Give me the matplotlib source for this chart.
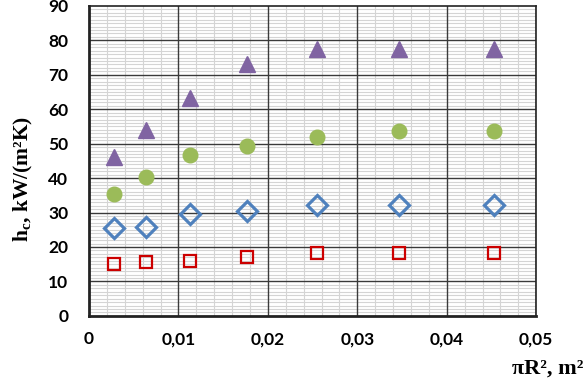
import matplotlib.pyplot as plt
from matplotlib.ticker import MultipleLocator, FuncFormatter

plt.rcParams["mathtext.fontset"] = "custom"
plt.rcParams["mathtext.rm"] = "Liberation Serif:bold"
plt.rcParams["mathtext.it"] = "Liberation Serif:bold"
plt.rcParams["mathtext.bf"] = "Liberation Serif:bold"

area = [0.00283, 0.00636, 0.01131, 0.01767, 0.02545, 0.03464, 0.04524]
h_tri = [46.2, 54.0, 63.2, 73.0, 77.4, 77.4, 77.4]
h_circ = [35.4, 40.3, 46.6, 49.3, 51.8, 53.7, 53.7]
h_diam = [25.4, 25.7, 29.7, 30.3, 32.1, 32.1, 32.1]
h_sq = [15.2, 15.6, 16.0, 17.1, 18.2, 18.2, 18.2]

fig = plt.figure(figsize=(5.86, 3.89), dpi=100)
ax = fig.add_axes([0.152, 0.188, 0.763, 0.797])

ax.plot(area, h_sq, "s", ms=9, mfc="none", mec="#CC0000", mew=1.6, zorder=3, clip_on=False)
ax.plot(area, h_diam, "D", ms=10, mfc="none", mec="#4F81BD", mew=2.3, zorder=3, clip_on=False)
ax.plot(area, h_circ, "o", ms=10.5, color="#9BBB59", zorder=3, clip_on=False)
ax.plot(area, h_tri, "^", ms=11, color="#8064A2", zorder=3, clip_on=False)

ax.set_xlim(0, 0.05)
ax.set_ylim(0, 90)
ax.xaxis.set_major_locator(MultipleLocator(0.01))
ax.xaxis.set_minor_locator(MultipleLocator(0.002))
ax.yaxis.set_major_locator(MultipleLocator(10))
ax.yaxis.set_minor_locator(MultipleLocator(1))
ax.xaxis.set_major_formatter(FuncFormatter(lambda v, p: "0" if v == 0 else f"{v:.2f}".replace(".", ",")))

# minor grid from the axes, major grid drawn above it
ax.grid(which="minor", color="#d4d4d4", lw=0.8)
ax.set_axisbelow(True)
for xv in ax.get_xticks():
    if 0 < xv < 0.05:
        ax.axvline(xv, color="#3a3a3a", lw=1.0, zorder=1)
for yv in ax.get_yticks():
    if 0 < yv < 90:
        ax.axhline(yv, color="#3a3a3a", lw=1.0, zorder=1)

ax.tick_params(which="both", length=0)
ax.tick_params(axis="x", pad=11)
ax.tick_params(axis="y", pad=15)
for lab in ax.get_xticklabels() + ax.get_yticklabels():
    lab.set_fontfamily("Lato")
    lab.set_fontweight("bold")
    lab.set_fontsize(12.5)
for s in ax.spines.values():
    s.set_color("#222222")
    s.set_linewidth(1.2)
ax.spines["left"].set_linewidth(2)
ax.spines["bottom"].set_linewidth(2)

fig.text(0.04, 0.54, r"h$_\mathrm{c}$, kW/(m²K)", rotation=90,
         ha="center", va="center", fontsize=15.5, fontweight="bold", family="Liberation Serif")
fig.text(0.995, 0.052, "πR², m²", ha="right", va="center",
         fontsize=16, fontweight="bold", family="Liberation Serif")

fig.savefig("out.png", dpi=100)
